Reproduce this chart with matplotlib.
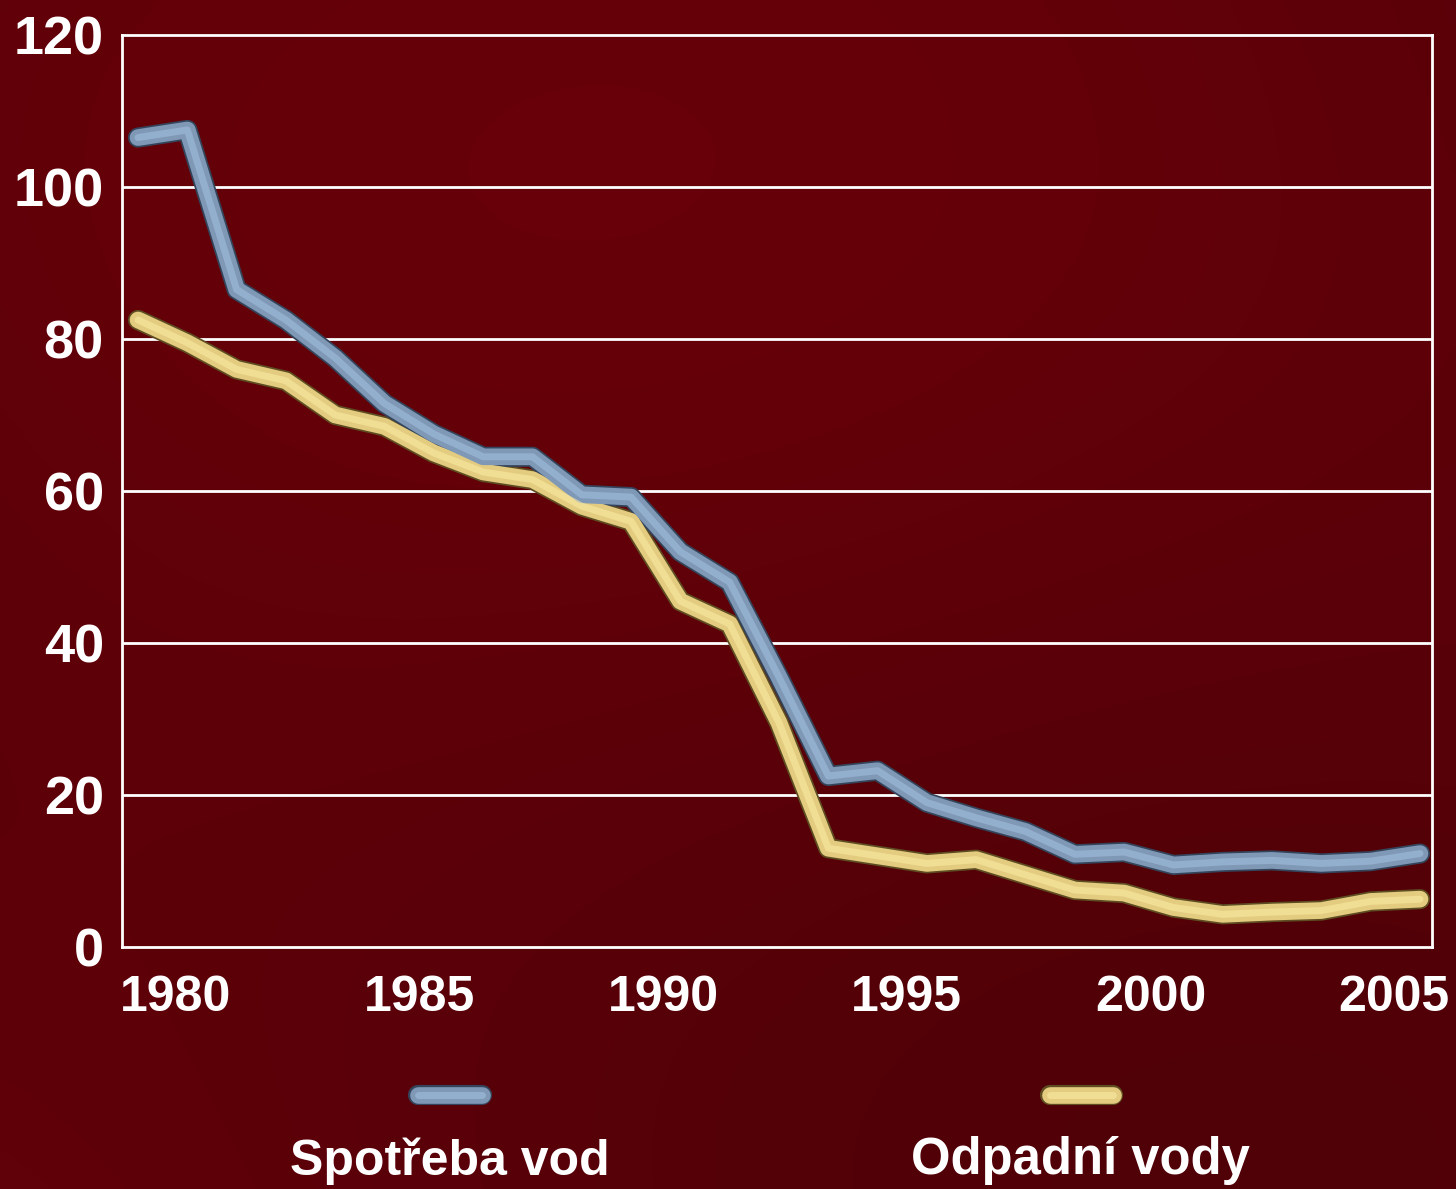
import numpy as np
import matplotlib
matplotlib.use("Agg")
import matplotlib.pyplot as plt

## data
years = list(range(1979, 2006))
spotreba = [106.5, 107.5, 86.5, 82.5, 77.5, 71.5, 67.5, 64.5, 64.5, 59.5, 59.2,
            52.0, 48.0, 35.5, 22.5, 23.2, 19.0, 17.0, 15.2, 12.2, 12.5,
            10.8, 11.2, 11.4, 11.0, 11.3, 12.3]
odpadni = [82.5, 79.5, 76.0, 74.5, 70.0, 68.5, 65.0, 62.5, 61.5, 58.0, 56.0,
           45.5, 42.5, 29.5, 13.0, 12.0, 11.0, 11.5, 9.5, 7.5, 7.1,
           5.2, 4.3, 4.6, 4.8, 6.0, 6.3]
tick_years = [1980, 1985, 1990, 1995, 2000, 2005]
y_ticks = [0, 20, 40, 60, 80, 100, 120]
labels = ["Spotřeba vod", "Odpadní vody"]

plt.rcParams['font.family'] = ["Liberation Sans", "DejaVu Sans"]
plt.rcParams['font.weight'] = 'bold'

fig = plt.figure(figsize=(14.56, 11.89), dpi=100)

## background: dark red, slightly mottled
bg = fig.add_axes([0, 0, 1, 1], zorder=-10)
yy, xx = np.mgrid[0:1:200j, 0:1:240j]
shade = 0.5 + 0.25 * np.sin(3.2 * xx + 2.0 * yy) + 0.2 * np.cos(4.5 * yy - 1.5 * xx)
base = np.array([0.41, 0.0, 0.035])
dark = np.array([0.31, 0.0, 0.03])
img = dark[None, None, :] + (base - dark)[None, None, :] * shade[:, :, None]
bg.imshow(np.clip(img, 0, 1), aspect='auto', extent=[0, 1, 0, 1], interpolation='bicubic')
bg.axis('off')

ax = fig.add_axes([0.0838, 0.2035, 0.8997, 0.7671])
ax.patch.set_alpha(0)
ax.set_xlim(1978.675, 2005.243)
ax.set_ylim(0, 120)

for v in y_ticks[1:-1]:
    ax.axhline(v, color='white', lw=2, zorder=1)
for s in ax.spines.values():
    s.set_color('white')
    s.set_linewidth(2)


def tube(x, y, face, dark_c, light_c, target):
    # fake 3d pipe: dark rim, main colour, soft highlight
    target.plot(x, y, color=dark_c, lw=14.5, solid_capstyle='round',
                solid_joinstyle='round', zorder=3)
    target.plot(x, y, color=face, lw=12, solid_capstyle='round',
                solid_joinstyle='round', zorder=4)
    target.plot(x, y, color=light_c, lw=5, solid_capstyle='round',
                solid_joinstyle='round', zorder=5, alpha=0.55)


tube(years, odpadni, '#e3cc7f', '#5e4d22', '#fbeda8', ax)
tube(years, spotreba, '#7e98b6', '#34445a', '#a6c2e2', ax)

ax.set_yticks(y_ticks)
ax.set_yticklabels([str(v) for v in y_ticks])
# labels sit slightly left of the points in the original
tick_pos = [1979.76 + (t - 1980) * 0.9886 for t in tick_years]
ax.set_xticks(tick_pos)
ax.set_xticklabels([str(t) for t in tick_years])
ax.tick_params(length=0, colors='white')
ax.tick_params(axis='y', labelsize=39, pad=13)
ax.tick_params(axis='x', labelsize=36, pad=20)
for lab in ax.get_xticklabels() + ax.get_yticklabels():
    lab.set_fontweight('bold')

## legend drawn by hand below the plot
leg = fig.add_axes([0, 0, 1, 0.15], zorder=-5)
leg.set_xlim(0, 1456)
leg.set_ylim(0, 178)
leg.axis('off')
tube([418, 482], [94, 94], '#7e98b6', '#34445a', '#a6c2e2', leg)
tube([1050, 1113], [94, 94], '#e3cc7f', '#5e4d22', '#fbeda8', leg)
leg.text(450, 28, labels[0], color='white', fontsize=36, fontweight='bold',
         ha='center', va='center')
leg.text(1080, 28, labels[1], color='white', fontsize=36.5, fontweight='bold',
         ha='center', va='center')

fig.savefig('out.png', dpi=100)
